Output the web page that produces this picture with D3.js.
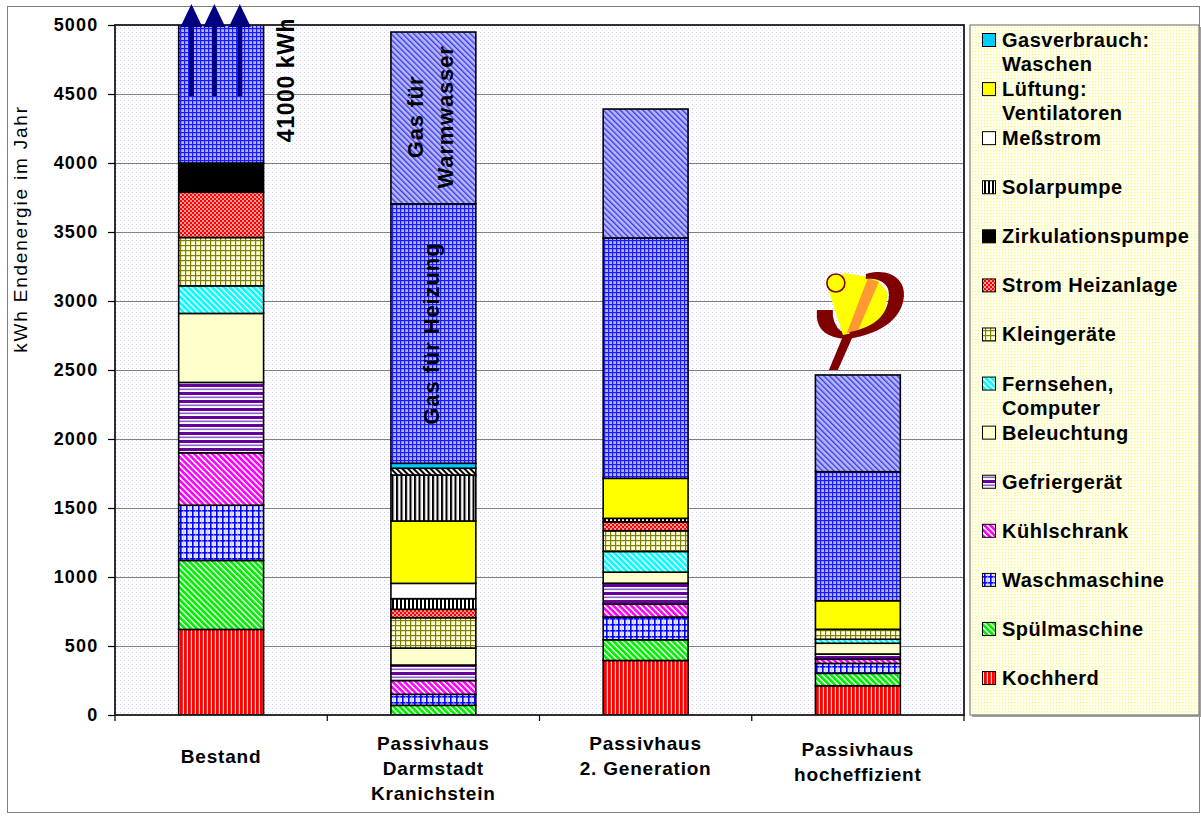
<!DOCTYPE html>
<html>
<head>
<meta charset="utf-8">
<script src="https://cdn.jsdelivr.net/npm/d3@7"></script>
<style>
  body { margin: 0; background: #fff; }
  svg { display: block; font-family: Arial, "Liberation Sans", sans-serif; }
</style>
</head>
<body>
<svg id="chart" width="1201" height="816"></svg>
<script>
// ---- data (kWh Endenergie pro Jahr) ----
const categories = ["Bestand", "Passivhaus Darmstadt Kranichstein", "Passivhaus 2. Generation", "Passivhaus hocheffizient"];
const categoryLines = [["Bestand"], ["Passivhaus", "Darmstadt", "Kranichstein"], ["Passivhaus", "2. Generation"], ["Passivhaus", "hocheffizient"]];

const kochherd          = [620,   0, 395, 212];
const spuelmaschine     = [500,  70, 150,  90];
const waschmaschine     = [400,  80, 165,  72];
const kuehlschrank      = [380, 100,  95,  30];
const gefriergeraet     = [510, 112, 150,  38];
const beleuchtung       = [500, 123,  80,  78];
const fernsehen         = [200,   0, 150,  29];
const kleingeraete      = [350, 220, 150,  72];
const stromHeizanlage   = [330,  61,  65,   0];
const zirkulationspumpe = [210,   0,   0,   0];
const solarpumpe        = [  0,  77,  25,   0];
const messstrom         = [  0, 111,   0,   0];
const lueftung          = [  0, 452, 290, 207];
const gasKochen         = [  0, 333,   0,   0];
const gasTrocknen       = [  0,  49,   0,   0];
const gasWaschen        = [  0,  36,   0,   0];
const gasHeizung        = [41000, 1880, 1742, 935];
const gasWarmwasser     = [  0, 1245, 934, 701];

const yTicks = [0, 500, 1000, 1500, 2000, 2500, 3000, 3500, 4000, 4500, 5000];
const bestandHeizLabel = "41000 kWh";

// stacking order, bottom to top
const seriesKeys = ["kochherd", "spuelmaschine", "waschmaschine", "kuehlschrank", "gefriergeraet",
  "beleuchtung", "fernsehen", "kleingeraete", "stromHeizanlage", "zirkulationspumpe", "solarpumpe",
  "messstrom", "lueftung", "gasKochen", "gasTrocknen", "gasWaschen", "gasHeizung", "gasWarmwasser"];
const seriesValues = {kochherd, spuelmaschine, waschmaschine, kuehlschrank, gefriergeraet,
  beleuchtung, fernsehen, kleingeraete, stromHeizanlage, zirkulationspumpe, solarpumpe,
  messstrom, lueftung, gasKochen, gasTrocknen, gasWaschen, gasHeizung, gasWarmwasser};

// legend entries, top to bottom
const legendKeys = ["gasWaschen", "lueftung", "messstrom", "solarpumpe", "zirkulationspumpe",
  "stromHeizanlage", "kleingeraete", "fernsehen", "beleuchtung", "gefriergeraet", "kuehlschrank",
  "waschmaschine", "spuelmaschine", "kochherd"];
const legendLabels = {
  gasWaschen: ["Gasverbrauch:", "Waschen"],
  lueftung: ["Lüftung:", "Ventilatoren"],
  messstrom: ["Meßstrom"],
  solarpumpe: ["Solarpumpe"],
  zirkulationspumpe: ["Zirkulationspumpe"],
  stromHeizanlage: ["Strom Heizanlage"],
  kleingeraete: ["Kleingeräte"],
  fernsehen: ["Fernsehen,", "Computer"],
  beleuchtung: ["Beleuchtung"],
  gefriergeraet: ["Gefriergerät"],
  kuehlschrank: ["Kühlschrank"],
  waschmaschine: ["Waschmaschine"],
  spuelmaschine: ["Spülmaschine"],
  kochherd: ["Kochherd"]
};

// ---- layout ----
const svg = d3.select("#chart");
const plot = {left: 115, top: 25, right: 964, bottom: 715};
const defs = svg.append("defs");

// ---- fill patterns ----
function pattern(id, w, h, bg, draw, transform) {
  const p = defs.append("pattern").attr("id", id).attr("patternUnits", "userSpaceOnUse")
    .attr("width", w).attr("height", h);
  if (transform) p.attr("patternTransform", transform);
  p.append("rect").attr("width", w).attr("height", h).attr("fill", bg);
  if (draw) draw(p);
  return "url(#" + id + ")";
}
const rect = (p, x, y, w, h, c) => p.append("rect").attr("x", x).attr("y", y).attr("width", w).attr("height", h).attr("fill", c);

const fills = {
  kochherd: pattern("p-koch", 4, 4, "#ffdcdc", p => rect(p, 0, 0, 2.8, 4, "#ff0000")),
  spuelmaschine: pattern("p-spuel", 4.2, 4.2, "#ffffff", p => rect(p, 0, 0, 2.8, 4.2, "#00ee00"), "rotate(-45)"),
  waschmaschine: pattern("p-wasch", 6, 6, "#eaeaff", p => { rect(p, 0, 0, 1.6, 6, "#0000ff"); rect(p, 0, 0, 6, 1.6, "#0000ff"); rect(p, 3.4, 0, 0.8, 6, "#b8b8ff"); }),
  kuehlschrank: pattern("p-kuehl", 4.2, 4.2, "#ffffff", p => rect(p, 0, 0, 2.6, 4.2, "#ff00ff"), "rotate(-45)"),
  gefriergeraet: pattern("p-gefrier", 8, 8, "#ffffff", p => { rect(p, 0, 0, 8, 3, "#660099"); rect(p, 0, 4.5, 8, 1.6, "#9060c8"); }),
  beleuchtung: "#ffffcc",
  fernsehen: pattern("p-fern", 4.2, 4.2, "#ffffff", p => rect(p, 0, 0, 2.8, 4.2, "#00ffff"), "rotate(-45)"),
  kleingeraete: pattern("p-klein", 5, 5, "#ffffdd", p => { rect(p, 0, 0, 1.2, 5, "#808000"); rect(p, 0, 0, 5, 1.2, "#808000"); }),
  stromHeizanlage: pattern("p-strom", 4, 4, "#ff9a9a", p => { rect(p, 0, 0, 2, 2, "#ff0000"); rect(p, 2, 2, 2, 2, "#ff0000"); }),
  zirkulationspumpe: "#000000",
  solarpumpe: pattern("p-solar", 4, 4, "#ffffff", p => rect(p, 0, 0, 2, 4, "#000000")),
  messstrom: "#ffffff",
  lueftung: "#ffff00",
  gasKochen: pattern("p-gaskoch", 4.5, 4, "#ffffff", p => { rect(p, 0, 0, 2, 4, "#000000"); rect(p, 2, 0, 0.8, 4, "#b0b0b0"); }),
  gasTrocknen: pattern("p-gastrock", 4, 4, "#ffffff", p => rect(p, 0, 0, 2, 4, "#000000"), "rotate(-45)"),
  gasWaschen: "#00ccff",
  gasHeizung: pattern("p-heiz", 4, 4, "#b4b4ff", p => { rect(p, 0, 0, 1.2, 4, "#1a1aff"); rect(p, 0, 0, 4, 1.2, "#1a1aff"); }),
  gasWarmwasser: pattern("p-ww", 4, 4, "#b8b8ff", p => rect(p, 0, 0, 1.4, 4, "#3a3ae0"), "rotate(-45)")
};
const plotBg = pattern("p-plotbg", 4, 4, "#ffffff", p => { rect(p, 0, 0, 1, 1, "#cdcdf4"); rect(p, 2, 2, 1, 1, "#ececfc"); });
const legendBg = pattern("p-legbg", 3, 3, "#ffffec", p => rect(p, 0, 0, 1.2, 1.2, "#f6f690"));

// ---- scales ----
const x = d3.scaleBand().domain(categories).range([plot.left, plot.right]).paddingInner(0.6).paddingOuter(0.3);
const y = d3.scaleLinear().domain([0, 5000]).range([plot.bottom, plot.top]);

// outer frame
svg.append("rect").attr("x", 7.5).attr("y", 6.5).attr("width", 1192).attr("height", 806)
  .attr("fill", "#fff").attr("stroke", "#808080").attr("stroke-width", 1);

// plot background
svg.append("rect").attr("x", plot.left).attr("y", plot.top)
  .attr("width", plot.right - plot.left).attr("height", plot.bottom - plot.top).attr("fill", plotBg);

// gridlines
svg.append("g").selectAll("line").data(yTicks.filter(t => t > 0 && t < 5000)).join("line")
  .attr("x1", plot.left).attr("x2", plot.right)
  .attr("y1", d => Math.round(y(d)) + 0.5).attr("y2", d => Math.round(y(d)) + 0.5)
  .attr("stroke", "#808080").attr("stroke-width", 1);

// ---- stacked bars ----
const rows = categories.map((c, i) => {
  const r = {cat: c};
  seriesKeys.forEach(k => r[k] = seriesValues[k][i]);
  return r;
});
const stacked = d3.stack().keys(seriesKeys)(rows);

svg.append("clipPath").attr("id", "plot-clip").append("rect")
  .attr("x", plot.left).attr("y", plot.top).attr("width", plot.right - plot.left).attr("height", plot.bottom - plot.top);

const barG = svg.append("g").attr("clip-path", "url(#plot-clip)");
stacked.forEach(layer => {
  barG.append("g").selectAll("rect")
    .data(layer.filter(d => d[1] - d[0] > 0))
    .join("rect")
    .attr("x", d => x(d.data.cat))
    .attr("width", x.bandwidth())
    .attr("y", d => y(d[1]))
    .attr("height", d => y(d[0]) - y(d[1]))
    .attr("fill", fills[layer.key])
    .attr("stroke", "#000").attr("stroke-width", 1.6);
});

// plot frame
svg.append("rect").attr("x", plot.left).attr("y", plot.top)
  .attr("width", plot.right - plot.left).attr("height", plot.bottom - plot.top)
  .attr("fill", "none").attr("stroke", "#1a1a1a").attr("stroke-width", 1.8);

// ---- y axis ----
const yAxis = svg.append("g").attr("transform", `translate(${plot.left},0)`)
  .call(d3.axisLeft(y).tickValues(yTicks).tickFormat(d3.format("d")).tickSize(7).tickPadding(9.5));
yAxis.select(".domain").remove();
yAxis.selectAll(".tick line").attr("stroke", "#000").attr("stroke-width", 1.2);
yAxis.selectAll(".tick text").attr("font-size", 18).attr("font-weight", "bold")
  .attr("letter-spacing", 1.2).attr("fill", "#000").attr("font-family", "Arial, 'Liberation Sans', sans-serif");

svg.append("text")
  .attr("transform", "translate(27,229) rotate(-90)")
  .attr("text-anchor", "middle").attr("font-size", 19).attr("letter-spacing", 1.8)
  .attr("fill", "#000").text("kWh Endenergie im Jahr");

// ---- category axis ----
svg.append("g").selectAll("line").data(d3.range(categories.length + 1)).join("line")
  .attr("x1", i => plot.left + i * x.step())
  .attr("x2", i => plot.left + i * x.step())
  .attr("y1", plot.bottom).attr("y2", plot.bottom + 6)
  .attr("stroke", "#000").attr("stroke-width", 1.2);

const labelTop = {"Bestand": 763, "Passivhaus hocheffizient": 756};
const catG = svg.append("g");
categories.forEach((c, i) => {
  const t = catG.append("text").attr("text-anchor", "middle")
    .attr("font-size", 19).attr("font-weight", "bold").attr("letter-spacing", 0.8).attr("fill", "#000");
  const y0 = labelTop[c] !== undefined ? labelTop[c] : 750;
  categoryLines[i].forEach((ln, j) => {
    t.append("tspan").attr("x", x(c) + x.bandwidth() / 2).attr("y", y0 + j * 25).text(ln);
  });
});

// ---- in-bar annotations ----
const cx = c => x(c) + x.bandwidth() / 2;
const dk = categories[1];
const dIdx = 1;
const heizLayer = stacked[seriesKeys.indexOf("gasHeizung")][dIdx];
const wwLayer = stacked[seriesKeys.indexOf("gasWarmwasser")][dIdx];
const heizMid = (y(heizLayer[0]) + y(heizLayer[1])) / 2;
const wwMid = (y(wwLayer[0]) + y(wwLayer[1])) / 2;

const wwText = svg.append("text")
  .attr("transform", `translate(${cx(dk) - 2},${wwMid - 1}) rotate(-90)`)
  .attr("text-anchor", "middle").attr("font-size", 22).attr("font-weight", "bold")
  .attr("letter-spacing", 0.8).attr("fill", "#000");
wwText.append("tspan").attr("x", 0).attr("dy", -8).text("Gas für");
wwText.append("tspan").attr("x", 0).attr("dy", 30).text("Warmwasser");

svg.append("text")
  .attr("transform", `translate(${cx(dk) + 6},${heizMid}) rotate(-90)`)
  .attr("text-anchor", "middle").attr("font-size", 22).attr("font-weight", "bold")
  .attr("letter-spacing", 0.9).attr("fill", "#000").text("Gas für Heizung");

// ---- Bestand: heating off the scale ----
const b = categories[0];
const bx = x(b), bw = x.bandwidth();
const arrowG = svg.append("g").attr("fill", "#000080");
[0.15, 0.42, 0.72].forEach(f => {
  const ax = bx + bw * f;
  arrowG.append("rect").attr("x", ax - 2.5).attr("y", 18).attr("width", 5).attr("height", y(4500) - 18 + 2);
  arrowG.append("path").attr("d", `M${ax - 11},27 L${ax + 11},27 L${ax},4 Z`);
});
svg.append("text")
  .attr("transform", `translate(${bx + bw + 30},${80}) rotate(-90)`)
  .attr("text-anchor", "middle").attr("font-size", 23).attr("font-weight", "bold")
  .attr("letter-spacing", 0.6).attr("fill", "#000").text(bestandHeizLabel);

// ---- Passivhaus logo above the high-efficiency bar ----
const hk = categories[3];
const hTop = y(stacked[stacked.length - 1][3][1]);
const logo = svg.append("g").attr("transform", `translate(${cx(hk)},${hTop})`);
logo.append("path").attr("fill", "#800000")
  .attr("d", "M -41,-65 L -25,-65 L -25,-59 Q -23,-45 -11,-41 L -12,-36 Q -39,-38 -41,-57 Z");
logo.append("path").attr("fill", "#800000")
  .attr("d", "M -14,-41 L -4,-41 L -20,-5 L -29,-5 Z");
logo.append("path").attr("fill", "#ffff00")
  .attr("d", "M -31,-90 L -14,-102 L 18,-97 L 30,-82 L 27,-62 L 10,-45 L -15,-40 Z");
logo.append("path").attr("fill", "#ff9933")
  .attr("d", "M 10,-97 L 21,-93 L -1,-42 L -11,-42 Z");
logo.append("path").attr("fill", "#800000")
  .attr("d", "M 8,-101 C 32,-108 48,-95 46,-78 C 44,-59 28,-42 -10,-36 L -8,-43 C 18,-48 30,-61 31,-79 C 32,-91 22,-97 8,-96 Z");
logo.append("circle").attr("cx", -22).attr("cy", -92).attr("r", 9)
  .attr("fill", "#ffff00").attr("stroke", "#800000").attr("stroke-width", 1.6);

// ---- legend ----
const leg = {x: 970, y: 25, w: 229, h: 690};
svg.append("rect").attr("x", leg.x + 2).attr("y", leg.y + 2).attr("width", leg.w).attr("height", leg.h)
  .attr("fill", "#a0a0a0");
svg.append("rect").attr("x", leg.x).attr("y", leg.y).attr("width", leg.w).attr("height", leg.h)
  .attr("fill", legendBg).attr("stroke", "#808080").attr("stroke-width", 1.2);

const slot = 49.08;
const legG = svg.append("g");
legendKeys.forEach((k, i) => {
  const cy = 40 + i * slot;
  legG.append("rect").attr("x", 982.5).attr("y", cy - 6.5).attr("width", 13).attr("height", 13)
    .attr("fill", fills[k]).attr("stroke", "#000").attr("stroke-width", 1);
  const t = legG.append("text").attr("font-size", 20).attr("font-weight", "bold")
    .attr("letter-spacing", 0.5).attr("fill", "#000").attr("dominant-baseline", "central");
  legendLabels[k].forEach((ln, j) => {
    t.append("tspan").attr("x", 1002).attr("y", cy + j * 24).text(ln);
  });
});
</script>
</body>
</html>
